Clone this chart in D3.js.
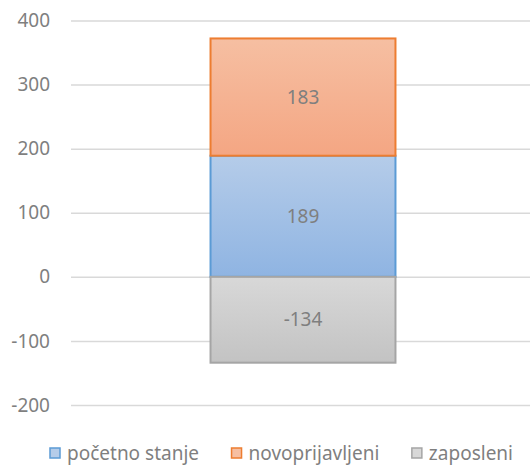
<!DOCTYPE html>
<html>
<head>
<meta charset="utf-8">
<script src="https://cdn.jsdelivr.net/npm/d3@7"></script>
<style>
  body { margin: 0; background: #fff; }
  text { font-family: "Noto Sans", "Open Sans", sans-serif; fill: #7f7f7f; }
</style>
</head>
<body>
<script>
var width = 530;
var height = 465;

// data
var seriesNames = ['početno stanje', 'novoprijavljeni', 'zaposleni'];
var seriesValues = [189, 183, -134];
var yTicks = [-200, -100, 0, 100, 200, 300, 400];
var fills = [
  { top: '#b5cce9', bottom: '#8fb4e2', stroke: '#5b9bd5' },
  { top: '#f6bfa2', bottom: '#f4a683', stroke: '#ed7d31' },
  { top: '#d8d8d8', bottom: '#c3c3c3', stroke: '#a5a5a5' }
];

var row = { cat: '1' };
seriesNames.forEach(function(n, i) { row[n] = seriesValues[i]; });

var stacked = d3.stack()
    .keys(seriesNames)
    .offset(d3.stackOffsetDiverging)([row]);

var x = d3.scaleBand()
    .domain(['1'])
    .range([71, 535])
    .paddingInner(0.43)
    .paddingOuter(0.43);

var y = d3.scaleLinear()
    .domain([-200, 400])
    .range([405, 20.5]);

var svg = d3.select('body').append('svg')
    .attr('width', width)
    .attr('height', height);

// gradients, one per series
var defs = svg.append('defs');
fills.forEach(function(f, i) {
  var g = defs.append('linearGradient')
      .attr('id', 'grad' + i)
      .attr('x1', 0).attr('y1', 0).attr('x2', 0).attr('y2', 1);
  g.append('stop').attr('offset', '0%').attr('stop-color', f.top);
  g.append('stop').attr('offset', '100%').attr('stop-color', f.bottom);
});

// grid + tick labels
var yAxis = svg.append('g')
    .attr('transform', 'translate(71,0)')
    .call(d3.axisLeft(y)
      .tickValues(yTicks)
      .tickSize(-(width - 71))
      .tickPadding(21)
      .tickFormat(function(d) { return String(d); }));

yAxis.select('.domain').remove();
yAxis.selectAll('line')
    .attr('stroke', '#d9d9d9')
    .attr('stroke-width', 1.5);
yAxis.selectAll('text')
    .attr('fill', '#7f7f7f')
    .style('font-size', '19px');

// bars
var seg = svg.selectAll('.seg')
    .data(stacked)
  .enter().append('g')
    .attr('class', 'seg');

seg.append('rect')
    .attr('x', x('1'))
    .attr('width', x.bandwidth())
    .attr('y', function(d) { return y(Math.max(d[0][0], d[0][1])); })
    .attr('height', function(d) { return Math.abs(y(d[0][0]) - y(d[0][1])); })
    .attr('fill', function(d, i) { return 'url(#grad' + i + ')'; })
    .attr('stroke', function(d, i) { return fills[i].stroke; })
    .attr('stroke-width', 2);

seg.append('text')
    .attr('x', x('1') + x.bandwidth() / 2)
    .attr('y', function(d) { return y((d[0][0] + d[0][1]) / 2); })
    .attr('dy', '.35em')
    .attr('text-anchor', 'middle')
    .style('font-size', '19px')
    .text(function(d, i) { return seriesValues[i]; });

// legend
var legend = svg.append('g');
var items = legend.selectAll('.item')
    .data(seriesNames)
  .enter().append('g')
    .attr('class', 'item');

items.append('rect')
    .attr('width', 10)
    .attr('height', 10)
    .attr('y', 448)
    .attr('fill', function(d, i) { return fills[i].top; })
    .attr('stroke', function(d, i) { return fills[i].stroke; })
    .attr('stroke-width', 1.5);

items.append('text')
    .attr('x', 17)
    .attr('y', 460)
    .style('font-size', '19px')
    .text(function(d) { return d; });

// spread legend items between x=50 and x=513
var widths = [];
items.each(function() {
  widths.push(17 + d3.select(this).select('text').node().getComputedTextLength());
});
var gap = (513 - 50 - d3.sum(widths)) / (widths.length - 1);
var pos = 50;
items.each(function(d, i) {
  d3.select(this).attr('transform', 'translate(' + pos + ',0)');
  pos += widths[i] + gap;
});
</script>
</body>
</html>
